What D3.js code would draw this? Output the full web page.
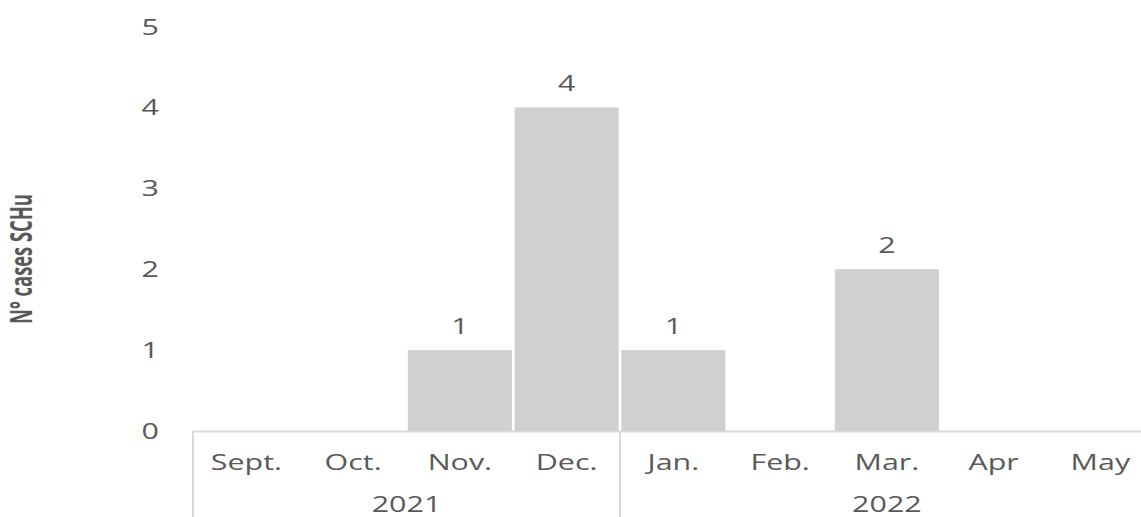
<!DOCTYPE html>
<html>
<head>
<meta charset="utf-8">
<script src="https://cdn.jsdelivr.net/npm/d3@7"></script>
<style>
  body { margin: 0; background: #fff; }
  text { font-family: "Open Sans", sans-serif; fill: #595959; }
</style>
</head>
<body>
<svg id="svg"></svg>
<script>
// data
const months = ["Sept.", "Oct.", "Nov.", "Dec.", "Jan.", "Feb.", "Mar.", "Apr", "May"];
const cases = [0, 0, 1, 4, 1, 0, 2, 0, 0];
const years = ["2021", "2022"];
const monthsPerYear = [4, 5];
const yTicks = [0, 1, 2, 3, 4, 5];

const w = 1141;
const h = 517;
const stretch = 1.45; // the source image is stretched sideways

let svg = d3.select("#svg")
  .attr("width", w)
  .attr("height", h);

const xScale = d3.scaleBand()
  .domain(months)
  .range([193, 193 + 9 * 106.75])
  .paddingInner(0.025)
  .paddingOuter(0.0125);

const yScale = d3.scaleLinear()
  .domain([0, 5])
  .range([431, 26.5]);

const barData = months.map((m, i) => ({ month: m, value: cases[i] })).filter(d => d.value > 0);

// y axis labels only, no line
const yAxis = d3.axisLeft(yScale).tickValues(yTicks).tickFormat(d3.format("d")).tickSize(0).tickPadding(0);
svg.append("g")
  .attr("transform", "translate(159,0)")
  .call(yAxis)
  .call(g => g.select(".domain").remove())
  .selectAll("text")
  .attr("font-size", "21px")
  .attr("font-family", "Open Sans, sans-serif")
  .attr("fill", "#595959")
  .attr("dy", "0.36em")
  .attr("x", 0)
  .attr("transform", "scale(" + stretch + ",1)")
  .style("text-anchor", "end");

// bars
svg.selectAll(".bar")
  .data(barData)
  .enter()
  .append("rect")
  .attr("class", "bar")
  .attr("x", d => xScale(d.month))
  .attr("y", d => yScale(d.value))
  .attr("width", xScale.bandwidth())
  .attr("height", d => yScale(0) - yScale(d.value))
  .attr("fill", "#d0cfd1");

// value labels
svg.selectAll(".value-label")
  .data(barData)
  .enter()
  .append("text")
  .attr("class", "value-label")
  .attr("transform", d => "translate(" + (xScale(d.month) + xScale.bandwidth() / 2) + "," + (yScale(d.value) - 16) + ") scale(" + stretch + ",1)")
  .attr("text-anchor", "middle")
  .attr("font-size", "21px")
  .text(d => d.value);

// x axis with month labels
const xAxis = d3.axisBottom(xScale).tickSize(0).tickSizeOuter(0).tickPadding(0);
svg.append("g")
  .attr("class", "x-axis")
  .attr("transform", "translate(0," + yScale(0) + ")")
  .call(xAxis)
  .call(g => g.select(".domain").attr("stroke", "#d9d9d9").attr("stroke-width", 2))
  .selectAll("text")
  .attr("font-size", "21px")
  .attr("font-family", "Open Sans, sans-serif")
  .attr("fill", "#595959")
  .attr("y", 31)
  .attr("dy", "0.36em")
  .attr("transform", "scale(" + stretch + ",1)");

// year groups: separators and labels
const step = xScale.step();
const x0 = xScale.range()[0];
let bounds = [x0];
let count = 0;
monthsPerYear.forEach(n => {
  count += n;
  bounds.push(x0 + count * step);
});

svg.selectAll(".year-sep")
  .data(bounds)
  .enter()
  .append("line")
  .attr("class", "year-sep")
  .attr("x1", d => d)
  .attr("x2", d => d)
  .attr("y1", yScale(0))
  .attr("y2", h)
  .attr("stroke", "#d9d9d9")
  .attr("stroke-width", 2);

svg.selectAll(".year-label")
  .data(years)
  .enter()
  .append("text")
  .attr("class", "year-label")
  .attr("transform", (d, i) => "translate(" + ((bounds[i] + bounds[i + 1]) / 2) + ",504) scale(" + stretch + ",1)")
  .attr("dy", "0.36em")
  .attr("text-anchor", "middle")
  .attr("font-size", "21px")
  .text(d => d);

// y axis title
svg.append("text")
  .attr("class", "y-axis-label")
  .attr("transform", "translate(32,259) rotate(-90) scale(0.875," + stretch + ")")
  .attr("text-anchor", "middle")
  .attr("font-family", "Liberation Sans, Arial, sans-serif")
  .attr("font-weight", "bold")
  .attr("font-size", "21px")
  .attr("fill", "#595959")
  .text("N° cases SCHu");
</script>
</body>
</html>
